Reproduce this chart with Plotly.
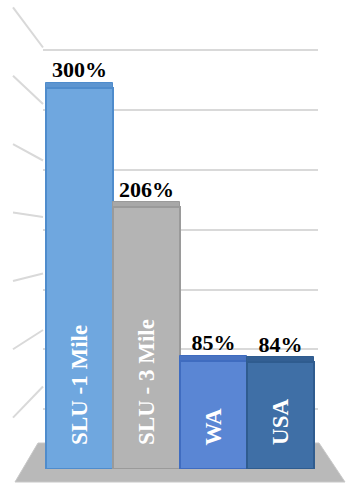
import plotly.graph_objects as go

categories = ["SLU -1 Mile", "SLU - 3 Mile", "WA", "USA"]
values = [300, 206, 85, 84]
value_labels = ["300%", "206%", "85%", "84%"]
bar_colors = ["#6fa7df", "#b4b4b4", "#5a86d4", "#3f6fa6"]
edge_colors = ["#4f8ccc", "#9a9a9a", "#3f6cc0", "#2f5c8f"]
cap_colors = ["#5d95d0", "#a8a8a8", "#4a74c2", "#335f93"]
grid_levels = [0, 50, 100, 150, 200, 250, 300, 350]

W, H = 348, 488
fig = go.Figure()

# main bars
fig.add_trace(go.Bar(
    x=categories, y=values,
    marker=dict(color=bar_colors, line=dict(color=edge_colors, width=2)),
    width=1.0, showlegend=False, hoverinfo="skip",
))
# top caps (3D hint)
fig.add_trace(go.Bar(
    x=categories, y=[4] * len(values), base=values,
    marker=dict(color=cap_colors, line=dict(color=edge_colors, width=1)),
    width=1.0, showlegend=False, hoverinfo="skip",
))
# value labels
fig.add_trace(go.Scatter(
    x=categories, y=[v + 4 for v in values], text=value_labels,
    mode="text", textposition="top center",
    textfont=dict(family="Liberation Serif", size=22, color="black", weight="bold"),
    showlegend=False, hoverinfo="skip",
))
# back-wall gridlines axis
fig.add_trace(go.Scatter(x=[0], y=[0], yaxis="y2", mode="markers",
                         marker=dict(opacity=0), showlegend=False, hoverinfo="skip"))

x_left_px, x_right_px = 43, 318
y_bar_zero_px = 469
y_back_zero_px = 443
px_per_unit_front = 1.27
px_per_unit_back = 1.13

bar_left_px, bar_right_px = 46, 314
cat_w = (bar_right_px - bar_left_px) / 4
xr0 = -0.5 - (bar_left_px - x_left_px) / cat_w
xr1 = 3.5 + (x_right_px - bar_right_px) / cat_w

annotations = [
    dict(x=c, y=17, xref="x", yref="y", text=c, textangle=-90,
         showarrow=False, yanchor="bottom", xanchor="center",
         font=dict(family="Liberation Serif", size=23, color="white", weight="bold"))
    for c in categories
]

# side-wall perspective lines & floor
shapes = []
for v in grid_levels[1:]:
    ry = y_back_zero_px - v * px_per_unit_back
    ly = 486 + 1.21 * (ry - y_back_zero_px)
    shapes.append(dict(type="line", xref="paper", yref="paper",
                       x0=13 / W, y0=1 - ly / H, x1=x_left_px / W, y1=1 - ry / H,
                       line=dict(color="#d9d9d9", width=2), layer="below"))
floor_pts = [(15, 482), (345, 482), (319, 443), (38, 443)]
path = "M " + " L ".join(f"{x / W},{1 - y / H}" for x, y in floor_pts) + " Z"
shapes.append(dict(type="path", xref="paper", yref="paper", path=path,
                   fillcolor="#b9b9b9", line=dict(color="#c8c8c8", width=1), layer="below"))

fig.update_layout(
    width=W, height=H,
    margin=dict(l=0, r=0, t=0, b=0),
    paper_bgcolor="white", plot_bgcolor="rgba(0,0,0,0)",
    barmode="overlay", bargap=0,
    xaxis=dict(domain=[x_left_px / W, x_right_px / W], range=[xr0, xr1],
               showticklabels=False, showgrid=False, zeroline=False, showline=False,
               fixedrange=True),
    yaxis=dict(domain=[1 - y_bar_zero_px / H, 1], range=[0, y_bar_zero_px / px_per_unit_front],
               showticklabels=False, showgrid=False, zeroline=False, showline=False),
    yaxis2=dict(domain=[1 - y_back_zero_px / H, 1], range=[0, y_back_zero_px / px_per_unit_back],
                overlaying="y", anchor="x", showticklabels=False, tickvals=grid_levels,
                showgrid=True, gridcolor="#d9d9d9", gridwidth=2, zeroline=False, showline=False),
    shapes=shapes,
    annotations=annotations,
)
fig.write_html("out.html")
